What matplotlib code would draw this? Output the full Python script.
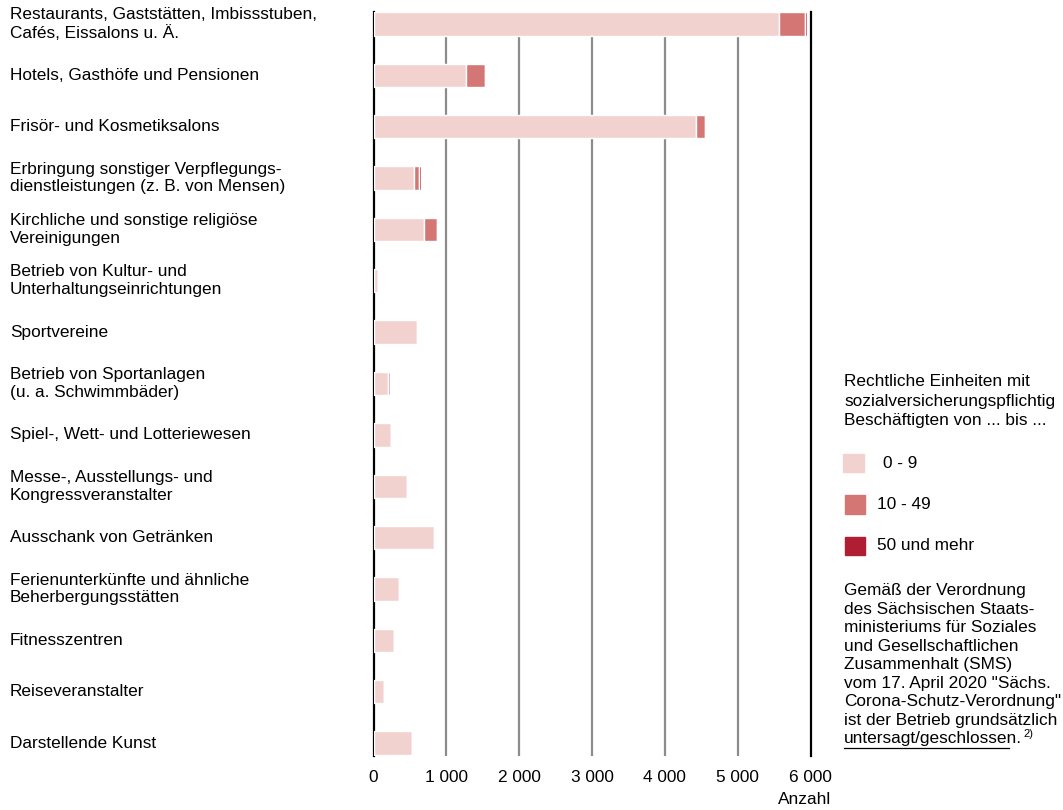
import matplotlib
matplotlib.use("Agg")
import matplotlib.pyplot as plt
from matplotlib.patches import Rectangle
from matplotlib.lines import Line2D
import matplotlib.transforms as mtransforms

plt.rcParams['font.family'] = ['Liberation Sans', 'DejaVu Sans']

categories = [
    "Restaurants, Gaststätten, Imbissstuben,\nCafés, Eissalons u. Ä.",
    "Hotels, Gasthöfe und Pensionen",
    "Frisör- und Kosmetiksalons",
    "Erbringung sonstiger Verpflegungs-\ndienstleistungen (z. B. von Mensen)",
    "Kirchliche und sonstige religiöse\nVereinigungen",
    "Betrieb von Kultur- und\nUnterhaltungseinrichtungen",
    "Sportvereine",
    "Betrieb von Sportanlagen\n(u. a. Schwimmbäder)",
    "Spiel-, Wett- und Lotteriewesen",
    "Messe-, Ausstellungs- und\nKongressveranstalter",
    "Ausschank von Getränken",
    "Ferienunterkünfte und ähnliche\nBeherbergungsstätten",
    "Fitnesszentren",
    "Reiseveranstalter",
    "Darstellende Kunst",
]
v_0_9 = [5570, 1265, 4430, 550, 700, 60, 600, 195, 243, 462, 837, 352, 280, 142, 530]
v_10_49 = [360, 260, 120, 75, 170, 3, 5, 35, 3, 4, 5, 3, 3, 2, 5]
v_50 = [25, 25, 5, 25, 5, 1, 2, 3, 1, 2, 2, 1, 1, 1, 2]
series_labels = ["0 - 9", "10 - 49", "50 und mehr"]
colors = ["#f2d2cf", "#d47674", "#b01e34"]
xticks = [0, 1000, 2000, 3000, 4000, 5000, 6000]
xticklabels = ["0", "1 000", "2 000", "3 000", "4 000", "5 000", "6 000"]
legend_title = ["Rechtliche Einheiten mit", "sozialversicherungspflichtig",
                "Beschäftigten von ... bis ..."]
note_lines = ["Gemäß der Verordnung", "des Sächsischen Staats-",
              "ministeriums für Soziales", "und Gesellschaftlichen",
              "Zusammenhalt (SMS)", "vom 17. April 2020 \"Sächs.",
              "Corona-Schutz-Verordnung\"", "ist der Betrieb grundsätzlich"]
note_last = "untersagt/geschlossen"

FS = 12.4
W, H = 1063, 810
fig = plt.figure(figsize=(W / 100, H / 100), dpi=100)

def fx(px):
    return px / W

def fy(py):
    return 1 - py / H

ax = fig.add_axes([fx(373.5), fy(756), fx(810.5) - fx(373.5), fy(12) - fy(756)])

n = len(categories)
ys = list(range(n))
left = [0] * n
for vals, col in zip([v_0_9, v_10_49, v_50], colors):
    ax.barh(ys, vals, left=left, height=0.455, color=col, edgecolor="white",
            linewidth=1.0, zorder=3)
    left = [l + v for l, v in zip(left, vals)]

ax.set_xlim(0, 6000)
ax.set_ylim(14.25, -0.23)
ax.set_xticks(xticks)
ax.set_xticklabels(xticklabels, fontsize=FS)
ax.set_yticks([])
ax.tick_params(axis='x', length=0, pad=10)
for x in xticks[1:-1]:
    ax.axvline(x, color="#8c8c8c", linewidth=1.6, zorder=1)
for s in ["top", "bottom"]:
    ax.spines[s].set_visible(False)
for s in ["left", "right"]:
    ax.spines[s].set_color("black")
    ax.spines[s].set_linewidth(1.6)

trans = mtransforms.blended_transform_factory(fig.transFigure, ax.transData)
for y, lab in zip(ys, categories):
    ax.text(fx(10), y, lab, transform=trans, ha="left", va="center",
            fontsize=FS, linespacing=1.24)

fig.text(fx(831), fy(799), "Anzahl", ha="right", va="center", fontsize=FS)

# legend title
for i, line in enumerate(legend_title):
    fig.text(fx(844), fy(386 + 19.5 * i), line, ha="left", va="baseline", fontsize=FS)

sq = [(843, 454, 21, 18), (845, 495, 20, 19), (845, 537, 20, 18)]
lab_x = [883, 877, 877]
for (x0, y0, w, h), col, lab, lx in zip(sq, colors, series_labels, lab_x):
    fig.add_artist(Rectangle((fx(x0), fy(y0 + h)), w / W, h / H,
                             transform=fig.transFigure, color=col))
    fig.text(fx(lx), fy(y0 + h / 2), lab, ha="left", va="center", fontsize=FS)

for i, line in enumerate(note_lines):
    fig.text(fx(844), fy(595 + 18.54 * i), line, ha="left", va="baseline", fontsize=FS)
t_last = fig.text(fx(844), fy(743.3), note_last + ".", ha="left", va="baseline", fontsize=FS)
fig.add_artist(Line2D([fx(844), fx(1009)], [fy(747.5), fy(747.5)],
                      transform=fig.transFigure, color="black", linewidth=0.9))
fig.canvas.draw()
bb = t_last.get_window_extent()
fig.text(bb.x1 / W + 1.0 / W, fy(737), "2)", ha="left", va="baseline", fontsize=8)

fig.savefig("out.png", dpi=100)
